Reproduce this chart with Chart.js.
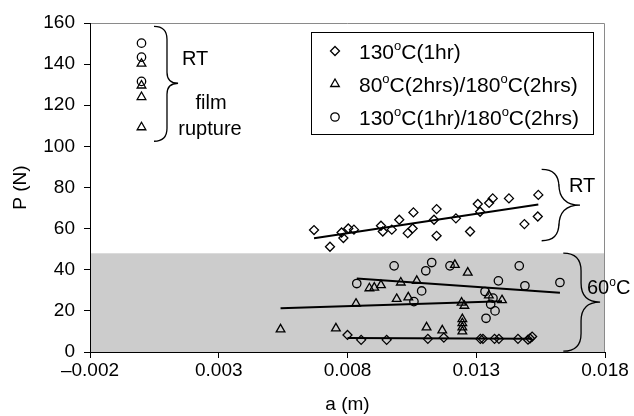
<!DOCTYPE html>
<html>
<head>
<meta charset="utf-8">
<script src="https://cdn.jsdelivr.net/npm/chart.js@4.4.0/dist/chart.umd.min.js"></script>
<style>
  html, body { margin: 0; padding: 0; background: #fff; }
</style>
</head>
<body>
<canvas id="chart" width="634" height="416"></canvas>
<script>
// axis ticks
const xTicks = [-0.002, 0.003, 0.008, 0.013, 0.018];
const yTicks = [0, 20, 40, 60, 80, 100, 120, 140, 160];
const shadeTop = 48; // top of the grey 60°C band (N)

const seriesNames = ['130°C(1hr)', '80°C(2hrs)/180°C(2hrs)', '130°C(1hr)/180°C(2hrs)'];

// RT, film rupture (all plotted at a = 0)
const rupTriA = [0.0, 0.0, 0.0, 0.0];
const rupTriP = [140.2, 129.6, 124.0, 109.3];
const rupCirA = [0.0, 0.0, 0.0];
const rupCirP = [150.2, 143.4, 131.6];

// 130°C(1hr) tested at RT
const rtDiaA = [0.00670, 0.00732, 0.00777, 0.00784, 0.00803, 0.00825, 0.00930, 0.00937, 0.00972, 0.01001,
                0.01034, 0.01053, 0.01056, 0.01136, 0.01146, 0.01146, 0.01221, 0.01276, 0.01306, 0.01315,
                0.01350, 0.01364, 0.01427, 0.01487, 0.01541, 0.01539];
const rtDiaP = [59.3, 51.2, 58.1, 55.4, 60.1, 59.5, 61.4, 58.6, 59.5, 64.3,
                57.8, 60.1, 67.9, 64.3, 69.5, 56.5, 65.0, 58.6, 72.0, 68.2,
                72.5, 74.7, 74.7, 62.2, 76.4, 65.9];

// tested at 60°C
const hotDiaA = [0.00800, 0.00853, 0.00952, 0.01112, 0.01174, 0.01316, 0.01326, 0.01371, 0.01388, 0.01462, 0.01501, 0.01509, 0.01517];
const hotDiaP = [8.3, 5.9, 5.9, 6.4, 7.0, 6.4, 6.4, 6.4, 6.4, 6.4, 6.0, 6.6, 7.5];

const hotTriA = [0.00540, 0.00755, 0.00833, 0.00885, 0.00904, 0.00930, 0.00991, 0.01007, 0.01036, 0.01069,
                 0.01107, 0.01168, 0.01217, 0.01243, 0.01254, 0.01246, 0.01246, 0.01246, 0.01246,
                 0.01267, 0.01349, 0.01400];
const hotTriP = [11.0, 11.5, 23.5, 31.0, 31.3, 32.5, 25.8, 33.8, 26.6, 34.6,
                 12.0, 10.5, 42.4, 24.0, 22.5, 10.0, 12.0, 14.0, 16.0,
                 38.6, 27.5, 25.2];

const hotCirA = [0.00836, 0.00981, 0.01058, 0.01088, 0.01104, 0.01127, 0.01198, 0.01334, 0.01338, 0.01356,
                 0.01365, 0.01373, 0.01386, 0.01467, 0.01489, 0.01625];
const hotCirP = [33.3, 41.9, 24.5, 29.7, 39.5, 43.5, 41.9, 29.4, 16.4, 23.2,
                 26.2, 20.0, 34.6, 41.9, 32.2, 33.8];

const FONT = '"Liberation Sans", Arial, sans-serif';
const FS = 19;      // axis text
const FS_NOTE = 20; // RT / film rupture / 60°C
const FS_LEG = 21;  // legend text

function pts(xs, ys) {
    return xs.map((x, i) => ({ x: x, y: ys[i] }));
}

// least squares line over the range of the series, like the excel trendline
function trend(xs, ys) {
    const n = xs.length;
    const mx = xs.reduce((a, b) => a + b, 0) / n;
    const my = ys.reduce((a, b) => a + b, 0) / n;
    let sxy = 0, sxx = 0;
    for (let i = 0; i < n; i++) {
        sxy += (xs[i] - mx) * (ys[i] - my);
        sxx += (xs[i] - mx) * (xs[i] - mx);
    }
    const b = sxy / sxx, a = my - b * mx;
    const lo = Math.min(...xs), hi = Math.max(...xs);
    return [{ x: lo, y: a + b * lo }, { x: hi, y: a + b * hi }];
}

function marker(style, r) {
    return {
        type: 'scatter',
        pointStyle: style,
        pointRadius: r,
        pointHoverRadius: r,
        pointBorderWidth: 1.3,
        borderColor: '#000',
        backgroundColor: 'rgba(0,0,0,0)'
    };
}

function trendSet(xs, ys) {
    return {
        type: 'line',
        data: trend(xs, ys),
        borderColor: '#000',
        borderWidth: 2,
        pointRadius: 0,
        fill: false
    };
}

// text with the degree sign set as a raised small "o"
function drawRich(ctx, text, x, yMid, size) {
    const base = yMid + size * 0.36;
    const parts = text.split('°');
    let cx = x;
    ctx.textBaseline = 'alphabetic';
    ctx.textAlign = 'left';
    parts.forEach((p, i) => {
        if (i > 0) {
            ctx.font = Math.round(size * 0.62) + 'px ' + FONT;
            ctx.fillText('o', cx, base - size * 0.40);
            cx += ctx.measureText('o').width;
        }
        ctx.font = size + 'px ' + FONT;
        ctx.fillText(p, cx, base);
        cx += ctx.measureText(p).width;
    });
}

function drawBrace(ctx, xHook, xMid, xTip, yTop, yTip, yBot) {
    const r = xMid - xHook;
    const r2 = xTip - xMid;
    ctx.beginPath();
    ctx.moveTo(xHook, yTop);
    ctx.quadraticCurveTo(xMid, yTop, xMid, yTop + r);
    ctx.lineTo(xMid, yTip - r2);
    ctx.quadraticCurveTo(xMid, yTip, xTip, yTip);
    ctx.quadraticCurveTo(xMid, yTip, xMid, yTip + r2);
    ctx.lineTo(xMid, yBot - r);
    ctx.quadraticCurveTo(xMid, yBot, xHook, yBot);
    ctx.stroke();
}

function drawMark(ctx, style, x, y) {
    ctx.beginPath();
    if (style === 'rectRot') {
        ctx.moveTo(x, y - 4.5); ctx.lineTo(x + 4.5, y); ctx.lineTo(x, y + 4.5); ctx.lineTo(x - 4.5, y); ctx.closePath();
    } else if (style === 'triangle') {
        ctx.moveTo(x, y - 5); ctx.lineTo(x + 4.3, y + 2.5); ctx.lineTo(x - 4.3, y + 2.5); ctx.closePath();
    } else {
        ctx.arc(x, y, 4.2, 0, Math.PI * 2);
    }
    ctx.stroke();
}

// braces and their labels, anchored in data units
const braces = [
    { x: [0.000485, 0.00099, 0.00142], y: [158.4, 130.7, 102.5] },
    { x: [0.01554, 0.01621, 0.01703], y: [88.8, 71.4, 54.1] },
    { x: [0.01638, 0.01707, 0.01781], y: [48.1, 24.3, 0.4] }
];
const notes = [
    { text: 'RT', x: 0.00157, y: 142.9, align: 'left' },
    { text: 'film', x: 0.00270, y: 121.6, align: 'center' },
    { text: 'rupture', x: 0.00266, y: 109.0, align: 'center' },
    { text: 'RT', x: 0.01660, y: 81.1, align: 'left' },
    { text: '60°C', x: 0.01730, y: 31.6, align: 'left' }
];

const backdrop = {
    id: 'backdrop',
    beforeDraw(chart) {
        const { ctx, chartArea: a, scales: { x, y } } = chart;
        ctx.save();
        const yt = y.getPixelForValue(shadeTop);
        ctx.fillStyle = '#cccccc';
        ctx.fillRect(a.left, yt, a.right - a.left, a.bottom - yt);
        ctx.strokeStyle = '#8a8a8a';
        ctx.lineWidth = 1;
        ctx.beginPath();
        ctx.moveTo(a.left, a.top + 0.5);
        ctx.lineTo(a.right - 0.5, a.top + 0.5);
        ctx.lineTo(a.right - 0.5, a.bottom);
        ctx.stroke();
        ctx.restore();
    }
};

const extras = {
    id: 'extras',
    afterDraw(chart) {
        const { ctx, scales: { x, y } } = chart;
        ctx.save();
        ctx.strokeStyle = '#000';
        ctx.fillStyle = '#000';
        ctx.lineWidth = 1.3;
        braces.forEach(b => {
            drawBrace(ctx, x.getPixelForValue(b.x[0]), x.getPixelForValue(b.x[1]), x.getPixelForValue(b.x[2]),
                y.getPixelForValue(b.y[0]), y.getPixelForValue(b.y[1]), y.getPixelForValue(b.y[2]));
        });
        notes.forEach(n => {
            let px = x.getPixelForValue(n.x);
            const py = y.getPixelForValue(n.y);
            if (n.align === 'center') {
                ctx.font = FS_NOTE + 'px ' + FONT;
                px -= ctx.measureText(n.text).width / 2;
            }
            drawRich(ctx, n.text, px, py, FS_NOTE);
        });

        // legend box
        const box = { left: 311, top: 32, right: 593, bottom: 134 };
        ctx.lineWidth = 1;
        ctx.strokeRect(box.left + 0.5, box.top + 0.5, box.right - box.left, box.bottom - box.top);
        const styles = ['rectRot', 'triangle', 'circle'];
        ctx.lineWidth = 1.3;
        seriesNames.forEach((name, i) => {
            const ry = box.top + 19 + i * 33;
            drawMark(ctx, styles[i], box.left + 24, ry);
            drawRich(ctx, name, box.left + 48, ry, FS_LEG);
        });
        ctx.restore();
    }
};

const ctx = document.getElementById('chart').getContext('2d');
const chart = new Chart(ctx, {
    data: {
        datasets: [
            Object.assign(marker('rectRot', 4.5), { label: seriesNames[0], data: pts(rtDiaA, rtDiaP) }),
            Object.assign(marker('rectRot', 4.5), { label: seriesNames[0], data: pts(hotDiaA, hotDiaP) }),
            Object.assign(marker('triangle', 5), { label: seriesNames[1], data: pts(hotTriA, hotTriP) }),
            Object.assign(marker('triangle', 5), { label: seriesNames[1], data: pts(rupTriA, rupTriP) }),
            Object.assign(marker('circle', 4.2), { label: seriesNames[2], data: pts(hotCirA, hotCirP) }),
            Object.assign(marker('circle', 4.2), { label: seriesNames[2], data: pts(rupCirA, rupCirP) }),
            trendSet(rtDiaA, rtDiaP),
            trendSet(hotDiaA, hotDiaP),
            trendSet(hotTriA, hotTriP),
            trendSet(hotCirA, hotCirP)
        ]
    },
    options: {
        responsive: false,
        animation: false,
        devicePixelRatio: 1,
        layout: { padding: { top: 23, right: 29, left: 0, bottom: 0 } },
        plugins: {
            legend: { display: false },
            tooltip: { enabled: false }
        },
        scales: {
            x: {
                type: 'linear',
                min: xTicks[0],
                max: xTicks[xTicks.length - 1],
                afterBuildTicks: s => { s.ticks = xTicks.map(v => ({ value: v })); },
                afterFit: s => { s.height = 64; },
                border: { color: '#000', width: 1 },
                grid: { drawOnChartArea: false, drawTicks: true, tickLength: 6, color: '#000' },
                ticks: {
                    padding: 1,
                    color: '#000',
                    font: { family: FONT, size: FS },
                    maxRotation: 0,
                    callback: v => (v < 0 ? '\u2013' : '') + Math.abs(v).toFixed(3)
                },
                title: {
                    display: true,
                    text: 'a (m)',
                    color: '#000',
                    font: { family: FONT, size: FS },
                    padding: { top: 0, bottom: 0 }
                }
            },
            y: {
                type: 'linear',
                min: yTicks[0],
                max: yTicks[yTicks.length - 1],
                afterBuildTicks: s => { s.ticks = yTicks.map(v => ({ value: v })); },
                afterFit: s => { s.width = 90; },
                border: { color: '#000', width: 1 },
                grid: { drawOnChartArea: false, drawTicks: true, tickLength: 6, color: '#000' },
                ticks: {
                    padding: 9,
                    color: '#000',
                    font: { family: FONT, size: FS }
                },
                title: {
                    display: true,
                    text: 'P (N)',
                    color: '#000',
                    font: { family: FONT, size: FS },
                    padding: { top: 9, bottom: 0 }
                }
            }
        }
    },
    plugins: [backdrop, extras]
});
</script>
</body>
</html>
